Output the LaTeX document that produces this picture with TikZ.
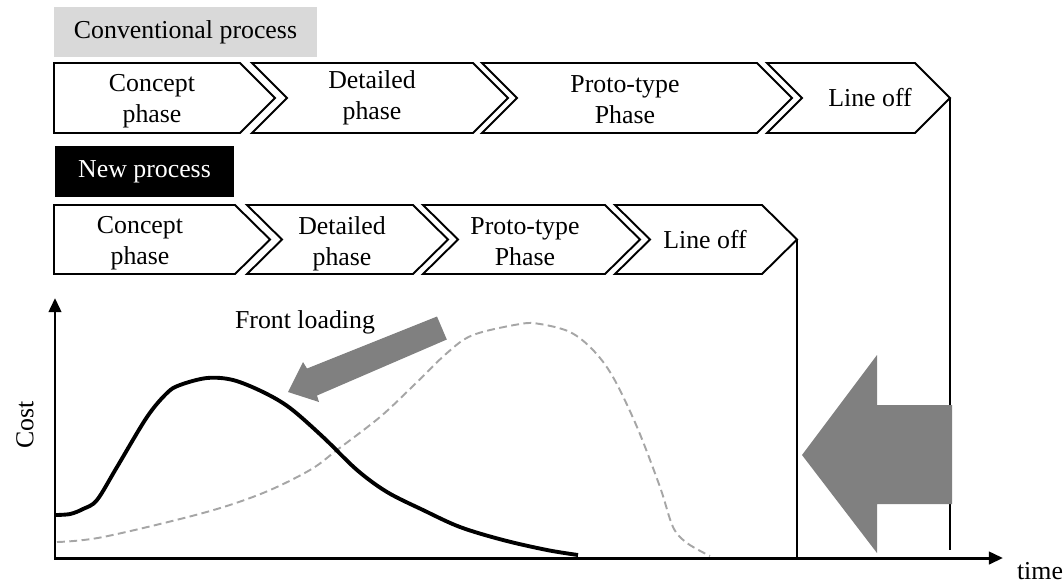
\documentclass[tikz,border=0pt]{standalone}
\usepackage{fontspec}
\setmainfont{Liberation Serif}
\usetikzlibrary{arrows.meta}

% pentagon (flat left end) and chevron outlines: #1 left, #2 right corner, #3 top, #4 bottom
\newcommand\homeplate[4]{%
  \draw[phasebox] (#1,#3) -- (#2,#3) -- (#2+35,{(#3+#4)/2}) -- (#2,#4) -- (#1,#4) -- cycle;}
\newcommand\chevron[4]{%
  \draw[phasebox] (#1,#3) -- (#2,#3) -- (#2+35,{(#3+#4)/2}) -- (#2,#4) -- (#1,#4)
    -- (#1+35,{(#3+#4)/2}) -- cycle;}

\begin{document}
\begin{tikzpicture}[x=0.02cm, y=-0.02cm,
  font=\fontsize{14.7}{17.6}\selectfont,
  phasebox/.style={draw=black, line width=1.1pt, fill=white, line join=miter},
  phasetext/.style={align=center, inner sep=0pt},
  axisline/.style={line width=1.7pt, line join=miter},
  marker/.style={line width=1.4pt},
  bigarrow/.style={fill=black!50, draw=none},
  newcurve/.style={line width=2.2pt, line join=round},
  oldcurve/.style={line width=1.1pt, draw=black!35, dash pattern=on 4.5pt off 2.5pt}]

\useasboundingbox (0,0) rectangle (1064,583);

% process labels
\node[fill=black!15, minimum width=263*0.02cm, minimum height=50*0.02cm, inner sep=0pt]
  (convlabel) at (185.5,32) {Conventional process};
\node[fill=black, text=white, minimum width=179*0.02cm, minimum height=51*0.02cm, inner sep=0pt]
  (newlabel) at (144.5,171.5) {New process};

% conventional process phases
\homeplate{54}{240}{63}{133}
\chevron{252}{473}{63}{133}
\chevron{482}{757}{63}{133}
\chevron{767}{915}{63}{133}
\node[phasetext] (c1) at (152,101) {Concept\\phase};
\node[phasetext] (c2) at (372,98) {Detailed\\phase};
\node[phasetext] (c3) at (625,100) {Proto-type\\Phase};
\node[phasetext] (c4) at (870,98) {Line off};

% new process phases
\homeplate{54}{235}{205}{274}
\chevron{247}{413}{205}{274}
\chevron{423}{605}{205}{274}
\chevron{615}{762}{205}{274}
\node[phasetext] (n1) at (140,243) {Concept\\phase};
\node[phasetext] (n2) at (342,244) {Detailed\\phase};
\node[phasetext] (n3) at (525,242) {Proto-type\\Phase};
\node[phasetext] (n4) at (705,240) {Line off};

% line-off markers
\coordinate (convend) at (950,98);
\coordinate (convfoot) at (950,550);
\coordinate (newend) at (797,239.5);
\coordinate (newfoot) at (797,558);
\draw[marker] (convend) -- (convfoot);
\draw[marker] (newend) -- (newfoot);

% axes
\coordinate (origin) at (55,558);
\coordinate (ytop) at (55,298);
\coordinate (xend) at (1003,558);
\draw[axisline, {Triangle[length=8pt,width=7pt]}-{Triangle[length=8pt,width=7pt]}]
  (ytop) -- (origin) -- (xend);
\node[anchor=north] (timelabel) at (1040,556) {time};
\node[rotate=90] (costlabel) at (25,425) {Cost};

% conventional cost curve
\draw[oldcurve] plot[smooth, tension=0.55] coordinates {
  (57,542) (103,537) (203,513) (263,493) (310,470) (337,450) (380,417)
  (413,386) (447,353) (473,335) (520,324) (540,324) (570,332) (593,350)
  (613,377) (637,427) (660,487) (673,527) (687,543) (710,556)};

% front-loaded cost curve
\draw[newcurve] plot[smooth, tension=0.55] coordinates {
  (55,515) (70,514) (83,509) (97,500) (117,467) (147,417) (167,393)
  (180,385) (207,378) (233,380) (263,392) (290,408) (323,437) (357,470)
  (387,492) (423,510) (460,527) (503,540) (547,550) (578,555)};

% front loading arrow
\node (frontlabel) at (305,322) {Front loading};
\fill[bigarrow] (437,316.5) -- (446.8,339.5) -- (317,395.5) -- (319,402)
  -- (288,392) -- (303,362) -- (307,368.5) -- cycle;

% schedule shift arrow
\fill[bigarrow] (952,405) -- (877,405) -- (877,355) -- (802,455)
  -- (877,553) -- (877,504) -- (952,504) -- cycle;

\end{tikzpicture}
\end{document}
